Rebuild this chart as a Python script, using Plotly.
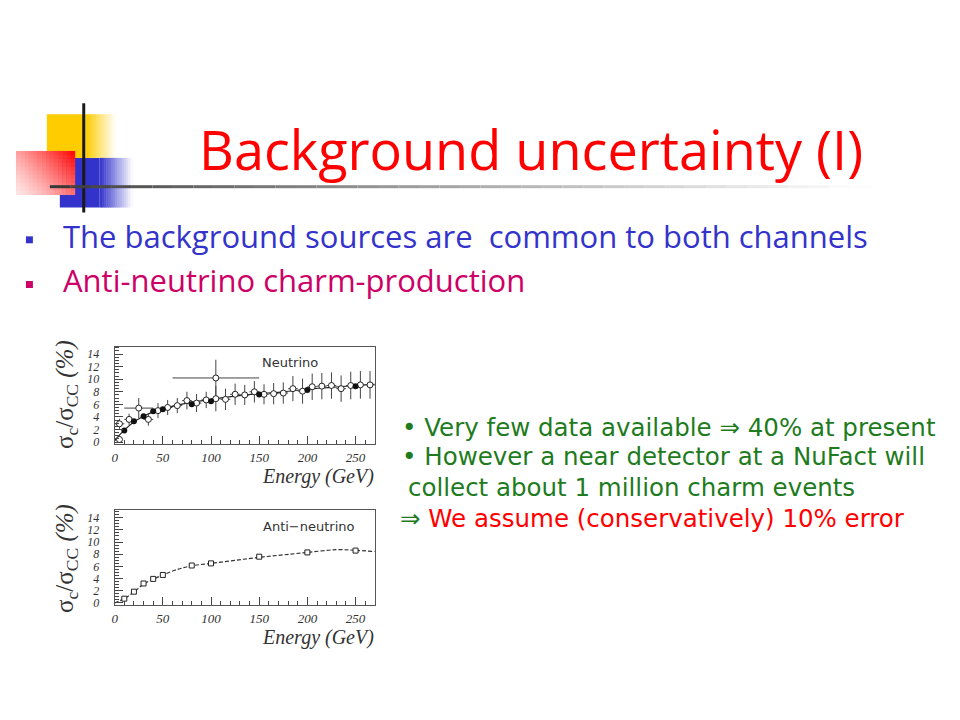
import plotly.graph_objects as go

# ---------------- data ----------------
nu_open_E = [5, 5, 15, 25, 35, 45, 55, 65, 75, 85, 95, 105, 105, 115, 125, 135, 145,
             155, 165, 175, 185, 195, 205, 215, 225, 235, 245, 255, 265]
nu_open_y = [2.9, 0.4, 3.6, 5.4, 3.6, 5.0, 5.5, 5.8, 6.6, 6.2, 6.7, 10.2, 6.9, 6.8, 7.6, 7.5, 8.0,
             7.6, 7.7, 7.8, 8.5, 8.1, 8.8, 8.9, 9.0, 8.5, 9.0, 9.1, 9.1]
nu_open_yerr = [0.8, 0.5, 0.9, 1.6, 1.0, 1.2, 1.2, 1.2, 1.4, 1.45, 1.3, 2.9, 2.0, 1.7, 1.7, 1.6, 1.7,
                1.6, 1.7, 1.7, 2.0, 2.0, 2.1, 2.1, 2.1, 2.1, 2.2, 2.2, 2.2]
nu_open_xerr = [5, 3, 5, 15, 5, 5, 5, 5, 5, 5, 5, 45, 5, 5, 5, 5, 5,
                5, 5, 5, 5, 5, 5, 5, 5, 5, 5, 5, 5]

nu_fill_E = [10, 20, 30, 40, 50, 80, 100, 150, 200, 250]
nu_fill_y = [1.85, 3.3, 4.1, 4.9, 5.2, 6.0, 6.5, 7.55, 8.3, 8.9]

nu_fit_E = [0, 5, 10, 20, 30, 40, 50, 75, 100, 125, 150, 175, 200, 225, 250, 270]
nu_fit_y = [0.2, 1.1, 1.9, 3.2, 4.1, 4.8, 5.3, 6.2, 6.8, 7.3, 7.7, 8.0, 8.4, 8.7, 9.0, 9.2]

anu_E = [10, 20, 30, 40, 50, 80, 100, 150, 200, 250]
anu_y = [0.7, 1.85, 3.2, 3.95, 4.6, 6.15, 6.5, 7.6, 8.3, 8.6]

anu_fit_E = [0, 10, 20, 30, 40, 50, 65, 80, 100, 125, 150, 175, 200, 230, 250, 270]
anu_fit_y = [0.0, 0.7, 1.8, 3.1, 3.9, 4.6, 5.5, 6.1, 6.5, 7.0, 7.5, 7.9, 8.3, 8.75, 8.65, 8.45]

y_ticks = [0, 2, 4, 6, 8, 10, 12, 14]
x_ticks = [0, 50, 100, 150, 200, 250]

W, H = 960, 720


def px(x):
    return x / W


def py(y):
    return 1 - y / H


fig = go.Figure()

# ---- neutrino plot (top) ----
fig.add_trace(go.Scatter(x=nu_fit_E, y=nu_fit_y, mode="lines",
                         line=dict(color="#222", width=1.2, shape="spline"),
                         xaxis="x", yaxis="y", showlegend=False, hoverinfo="skip"))
fig.add_trace(go.Scatter(x=nu_open_E, y=nu_open_y, mode="markers",
                         marker=dict(symbol="circle", size=6, color="white",
                                     line=dict(width=1, color="#222")),
                         error_y=dict(type="data", array=nu_open_yerr, color="#444", thickness=1, width=0),
                         error_x=dict(type="data", array=nu_open_xerr, color="#444", thickness=1, width=0),
                         xaxis="x", yaxis="y", showlegend=False))
fig.add_trace(go.Scatter(x=nu_fill_E, y=nu_fill_y, mode="markers",
                         marker=dict(symbol="circle", size=6, color="#111"),
                         xaxis="x", yaxis="y", showlegend=False))

# ---- anti-neutrino plot (bottom) ----
fig.add_trace(go.Scatter(x=anu_fit_E, y=anu_fit_y, mode="lines",
                         line=dict(color="#333", width=1.2, dash="4px,2px", shape="spline"),
                         xaxis="x2", yaxis="y2", showlegend=False, hoverinfo="skip"))
fig.add_trace(go.Scatter(x=anu_E, y=anu_y, mode="markers",
                         marker=dict(symbol="square", size=5, color="white",
                                     line=dict(width=1, color="#222")),
                         xaxis="x2", yaxis="y2", showlegend=False))

serif_tick = dict(family="Liberation Serif", size=12, color="#333", style="italic")


def xaxis_cfg(dom, anchor):
    return dict(domain=dom, anchor=anchor, range=[0, 270], tickvals=x_ticks,
                ticks="inside", ticklen=8, tickcolor="#444", tickwidth=1,
                minor=dict(dtick=10, ticks="inside", ticklen=4, tickcolor="#444"),
                showline=True, mirror=True, linecolor="#555", linewidth=1,
                showgrid=False, zeroline=False,
                tickfont=dict(serif_tick, size=13), ticklabelstandoff=2)


def yaxis_cfg(dom, anchor):
    return dict(domain=dom, anchor=anchor, range=[-0.3, 15.2], tickvals=y_ticks,
                ticks="inside", ticklen=8, tickcolor="#444", tickwidth=1,
                minor=dict(dtick=0.5, ticks="inside", ticklen=4, tickcolor="#444"),
                showline=True, mirror=True, linecolor="#555", linewidth=1,
                showgrid=False, zeroline=False, tickfont=serif_tick, ticklabelstandoff=12)


x_dom = [px(112), px(373)]
fig.update_layout(
    width=W, height=H, margin=dict(l=0, r=0, t=0, b=0),
    paper_bgcolor="white", plot_bgcolor="white",
    xaxis=xaxis_cfg(x_dom, "y"),
    yaxis=yaxis_cfg([py(447), py(349)], "x"),
    xaxis2=xaxis_cfg(x_dom, "y2"),
    yaxis2=yaxis_cfg([py(609), py(514)], "x2"),
)

shapes = []


def rect(x0, y0, x1, y1, color):
    shapes.append(dict(type="rect", xref="paper", yref="paper",
                       x0=px(x0), x1=px(x1), y0=py(y1), y1=py(y0),
                       fillcolor=color, line=dict(width=0), layer="below"))


def mix(c, t):
    # t=1 -> full color, t=0 -> white
    return "rgb(%d,%d,%d)" % tuple(round(255 + (ci - 255) * t) for ci in c)


# yellow block
yel = (255, 204, 0)
rect(44, 115, 83, 159, mix(yel, 1))
n = 15
for i in range(n):
    xa = 83 + (113 - 83) * i / n
    xb = 83 + (113 - 83) * (i + 1) / n
    rect(xa, 115, xb + 0.5, 159, mix(yel, 1 - (i + 0.5) / n))
# blue block
blu = (51, 51, 204)
rect(57, 159, 97, 209, mix(blu, 1))
for i in range(n):
    xa = 97 + (130 - 97) * i / n
    xb = 97 + (130 - 97) * (i + 1) / n
    rect(xa, 159, xb + 0.5, 209, mix(blu, 1 - (i + 0.5) / n))
# red block with diagonal gradient
red = (255, 0, 0)
nx, ny = 14, 11
for i in range(nx):
    for j in range(ny):
        xa = 13 + (72 - 13) * i / nx
        xb = 13 + (72 - 13) * (i + 1) / nx
        ya = 152 + (196 - 152) * j / ny
        yb = 152 + (196 - 152) * (j + 1) / ny
        u = (i + 0.5) / nx
        v = 1 - (j + 0.5) / ny
        t = 0.1 + 0.9 * (0.6 * u + 0.4 * v) ** 1.3
        rect(xa, ya, xb + 0.4, yb + 0.4, mix(red, t))

# vertical black line
shapes.append(dict(type="line", xref="paper", yref="paper",
                   x0=px(81), x1=px(81), y0=py(104), y1=py(214),
                   line=dict(color="#1a1a1a", width=3)))
# horizontal gradient line under the title
m = 40
for i in range(m):
    xa = 47 + (870 - 47) * i / m
    xb = 47 + (870 - 47) * (i + 1) / m
    g = round(50 + 205 * ((i + 0.5) / m) ** 0.8)
    shapes.append(dict(type="line", xref="paper", yref="paper",
                       x0=px(xa), x1=px(xb), y0=py(188), y1=py(188),
                       line=dict(color="rgb(%d,%d,%d)" % (g, g, g), width=3)))

# bullet squares
rect(23, 238, 30, 245, "#3333CC")
rect(23, 283, 30, 290, "#CC0066")

fig.update_layout(shapes=shapes)

ann = []


def text(x, y, s, size, color, family="Open Sans", xanchor="left", **kw):
    ann.append(dict(x=px(x), y=py(y), xref="paper", yref="paper", text=s, showarrow=False,
                    xanchor=xanchor, yanchor="middle",
                    font=dict(size=size, color=color, family=family), **kw))


text(530, 150, "Background uncertainty (I)", 54, "#FF0000", xanchor="center")
text(58, 238, "The background sources are  common to both channels", 31, "#3333CC")
text(58, 282, "Anti-neutrino charm-production", 31, "#CC0066")

green = "#1E7B1E"
gf = "DejaVu Sans"
text(398, 430, "• Very few data available ⇒ 40% at present", 24.5, green, family=gf)
text(398, 460, "• However a near detector at a NuFact will", 24.5, green, family=gf)
text(404, 491, "collect about 1 million charm events", 24.5, green, family=gf)
text(396, 522, "⇒ <span style='color:#FF0000'>We assume (conservatively) 10% error</span>", 24.5, green,
     family=gf)

# in-plot labels
ann.append(dict(x=0.79, y=0.93, xref="x domain", yref="y domain", text="Neutrino", showarrow=False,
                xanchor="right", yanchor="top", font=dict(family="DejaVu Sans", size=13, color="#333")))
ann.append(dict(x=0.93, y=0.93, xref="x2 domain", yref="y2 domain", text="Anti−neutrino", showarrow=False,
                xanchor="right", yanchor="top", font=dict(family="DejaVu Sans", size=13, color="#333")))

# axis titles
for yc in (397, 562):
    ann.append(dict(x=px(63), y=py(yc), xref="paper", yref="paper",
                    text="σ<sub>c</sub>/σ<sub>CC</sub> <i>(%)</i>", showarrow=False, textangle=-90,
                    xanchor="center", yanchor="middle",
                    font=dict(family="Liberation Serif", size=25, color="#333")))
for yc in (480, 642):
    ann.append(dict(x=px(374), y=py(yc), xref="paper", yref="paper",
                    text="<i>Energy (GeV)</i>", showarrow=False,
                    xanchor="right", yanchor="middle",
                    font=dict(family="Liberation Serif", size=20, color="#333")))

fig.update_layout(annotations=ann)

fig.write_html("out.html", post_script="document.body.style.margin='0px';",
               config={"displayModeBar": False})
